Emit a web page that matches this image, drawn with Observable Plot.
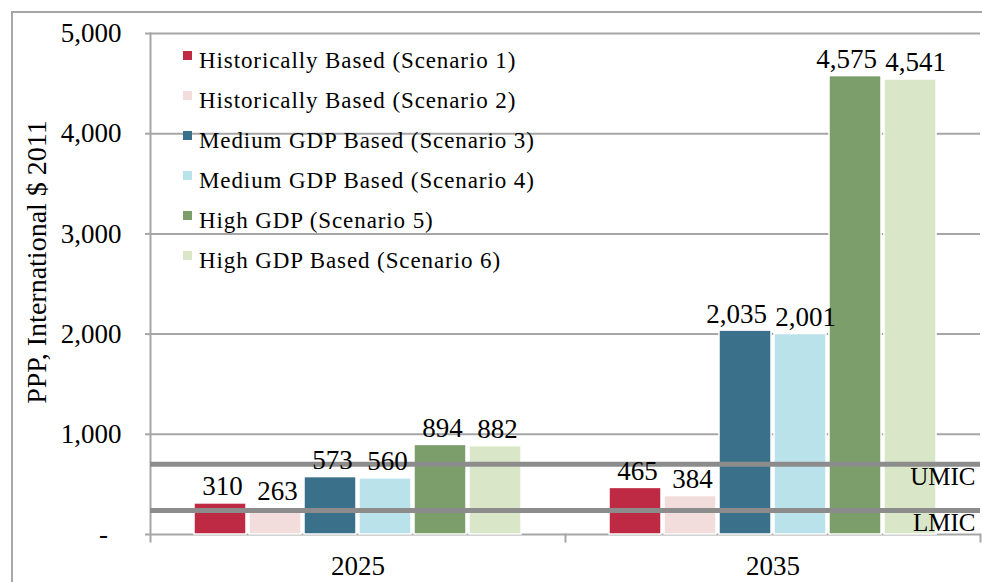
<!DOCTYPE html>
<html>
<head>
<meta charset="utf-8">
<script src="https://cdn.jsdelivr.net/npm/d3@7"></script>
<script src="https://cdn.jsdelivr.net/npm/@observablehq/plot@0.6"></script>
<style>
html, body { margin: 0; padding: 0; background: #fff; overflow: hidden; }
#wrap { position: relative; width: 982px; height: 582px; font-family: "Liberation Serif", serif; }
#border { position: absolute; left: 11px; top: 11px; width: 1000px; height: 620px; border: 2px solid #a6a6a6; box-sizing: border-box; }
#chart { position: absolute; left: 0; top: 0; }
#ylabel { position: absolute; left: 37px; top: 262px; transform: translate(-50%, -50%) rotate(-90deg); white-space: nowrap;
  font-family: "Liberation Serif", serif; font-size: 28px; line-height: 1; color: #000; }
#legend { position: absolute; left: 183px; top: 41px; }
#legend .lg-swatches { display: flex !important; flex-direction: column !important; align-items: flex-start !important;
  font-family: "Liberation Serif", serif !important; font-size: 23px !important; color: #000 !important; letter-spacing: 0.9px; min-height: 0 !important; margin: 0 !important; }
#legend .lg-swatch { height: 40px; margin: 0 !important; display: flex !important; align-items: center !important; }
#legend .lg-swatch svg { margin-right: 7px !important; position: relative; top: -6px; }
</style>
</head>
<body>
<div id="wrap">
  <div id="border"></div>
  <div id="chart"></div>
  <div id="ylabel"></div>
  <div id="legend"></div>
</div>
<script>
const years = ["2025", "2035"];
const scenarios = [
  "Historically Based (Scenario 1)",
  "Historically Based (Scenario 2)",
  "Medium GDP Based (Scenario 3)",
  "Medium GDP Based (Scenario 4)",
  "High GDP (Scenario 5)",
  "High GDP Based (Scenario 6)"
];
const colors = ["#be2944", "#f2dddc", "#3a708a", "#bae2ea", "#7b9e6a", "#d9e7c8"];
const values2025 = [310, 263, 573, 560, 894, 882];
const values2035 = [465, 384, 2035, 2001, 4575, 4541];
const thresholdValues = [700, 240];
const thresholdLabels = ["UMIC", "LMIC"];
const yTicks = [0, 1000, 2000, 3000, 4000, 5000];
const yLabel = "PPP, International $ 2011";

const series = [values2025, values2035];
const data = years.flatMap((yr, i) => scenarios.map((s, j) => ({year: yr, scenario: s, idx: j, value: series[i][j]})));
const thresholdData = thresholdValues.map((v, i) => ({year: years[1], value: v, label: thresholdLabels[i]}));

const fmt = d3.format(",");
const gray = "#a6a6a6";

// label groups: wide (4-digit) labels are nudged apart, as in the original
const small = data.filter(d => d.value < 1000);
const wideLeft = data.filter(d => d.value >= 1000 && d.idx % 2 === 0);
const wideRight = data.filter(d => d.value >= 1000 && d.idx % 2 === 1);
const labelOpts = {fx: "year", x: "scenario", y: "value", text: d => fmt(d.value), lineAnchor: "bottom", dy: -8, fontSize: 27, fill: "#000"};

const chart = Plot.plot({
  width: 982,
  height: 582,
  marginLeft: 150,
  marginRight: 2,
  marginTop: 33,
  marginBottom: 48,
  style: {background: "transparent", fontFamily: "Liberation Serif, serif", fontSize: "27px", color: "#000"},
  fx: {domain: years, padding: 0, label: null},
  x: {domain: scenarios, paddingInner: 0.05, paddingOuter: 0.75, axis: null},
  y: {domain: [0, 5000]},
  color: {domain: scenarios, range: colors},
  marks: [
    Plot.gridY(yTicks, {stroke: gray, strokeOpacity: 1, strokeWidth: 2}),
    Plot.frame({anchor: "left", fx: () => years[0], stroke: gray, strokeWidth: 2, insetBottom: -7}),
    Plot.frame({anchor: "left", fx: () => years[1], stroke: gray, strokeWidth: 2, insetTop: 501, insetBottom: -7}),
    Plot.frame({anchor: "right", fx: () => years[1], stroke: gray, strokeWidth: 2, insetTop: 501, insetBottom: -7}),
    Plot.barY(data, {fx: "year", x: "scenario", y: "value", fill: "scenario", stroke: "white", strokeWidth: 1.5}),
    Plot.ruleY(thresholdValues, {stroke: "#8c8c8c", strokeWidth: 5}),
    Plot.text(small, {...labelOpts, dx: 2}),
    Plot.text(wideLeft, {...labelOpts, dx: -9}),
    Plot.text(wideRight, {...labelOpts, dx: 5}),
    Plot.text(thresholdData, {fx: "year", y: "value", text: "label", frameAnchor: "right", textAnchor: "end", lineAnchor: "top", dx: -5, dy: 3, fontSize: 25, fill: "#000"}),
    Plot.axisY(yTicks, {
      anchor: "left",
      tickFormat: d => d === 0 ? "-\u2002" : fmt(d),
      tickSize: 5,
      tickPadding: 24,
      stroke: gray,
      strokeWidth: 2,
      fontSize: 27,
      label: null
    }),
    Plot.axisFx({anchor: "bottom", tickSize: 0, tickPadding: 21, fontSize: 27, label: null})
  ]
});
document.getElementById("chart").appendChild(chart);
document.getElementById("ylabel").textContent = yLabel;
const lg = chart.legend("color", {swatchSize: 9, className: "lg"});
document.getElementById("legend").appendChild(lg);
</script>
</body>
</html>
